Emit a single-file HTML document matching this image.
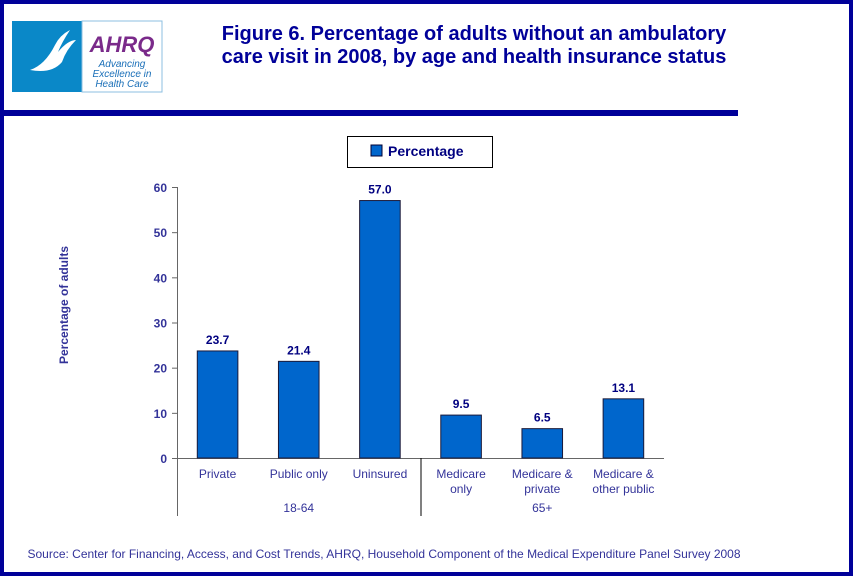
<!DOCTYPE html>
<html><head><meta charset="utf-8"><style>
body{margin:0;width:853px;height:576px;overflow:hidden;background:#fff;font-family:"Liberation Sans",sans-serif}
#frame{position:absolute;left:0;top:0;width:845px;height:568px;border:4px solid #000099;background:#fff}
</style></head><body>
<div id="frame"></div>
<svg width="853" height="576" style="position:absolute;left:0;top:0" font-family="Liberation Sans, sans-serif">
<g>
<rect x="12" y="21" width="70" height="71" fill="#0A88C8"/>
<path d="M30 70 q15 -5 25 -25 q5 -10 15 -15 q-8 12 -12 22 q10 -12 18 -12 q-10 10 -14 22 q-10 12 -32 8z" fill="#fff"/>
<rect x="82" y="21" width="80" height="71" fill="#fff" stroke="#8cbfe0"/>
<text x="122" y="52" text-anchor="middle" font-size="22" font-weight="bold" font-style="italic" fill="#7a2a8a">AHRQ</text>
<text x="122" y="67" text-anchor="middle" font-size="10" font-style="italic" fill="#1a6fb8">Advancing</text>
<text x="122" y="77" text-anchor="middle" font-size="10" font-style="italic" fill="#1a6fb8">Excellence in</text>
<text x="122" y="87" text-anchor="middle" font-size="10" font-style="italic" fill="#1a6fb8">Health Care</text>
</g>
<text x="474" y="40" text-anchor="middle" font-size="20" font-weight="bold" fill="#000099">Figure 6. Percentage of adults without an ambulatory</text>
<text x="474" y="63" text-anchor="middle" font-size="20" font-weight="bold" fill="#000099">care visit in 2008, by age and health insurance status</text>
<rect x="4" y="110" width="734" height="6" fill="#000099"/>
<g>
<rect x="347.5" y="136.5" width="145" height="31" fill="#fff" stroke="#000"/>
<rect x="371" y="145" width="11" height="11" fill="#0066CC" stroke="#003"/>
<text x="388" y="156" font-size="14" font-weight="bold" fill="#000080">Percentage</text>
</g>
<text transform="translate(68,305) rotate(-90)" text-anchor="middle" font-size="12" font-weight="bold" fill="#333399">Percentage of adults</text>
<g id="plot"></g>
<text x="384" y="558" text-anchor="middle" font-size="12" fill="#333399">Source: Center for Financing, Access, and Cost Trends, AHRQ, Household Component of the Medical Expenditure Panel Survey 2008</text>
</svg>
<script>
const categories=[["Private"],["Public only"],["Uninsured"],["Medicare","only"],["Medicare &","private"],["Medicare &","other public"]];
const values=[23.7,21.4,57.0,9.5,6.5,13.1];
const labels=["23.7","21.4","57.0","9.5","6.5","13.1"];
const yTicks=[0,10,20,30,40,50,60];
const groups=["18-64","65+"];
const groupSizes=[3,3];
const NS="http://www.w3.org/2000/svg";
const g=document.getElementById('plot');
const x0=177,x1=664,y0=458,yTop=187,yMax=60;
const step=(x1-x0)/categories.length;
const yS=v=>y0-(v/yMax)*(y0-yTop);
const xC=i=>x0+step*(i+0.5);
function mk(t,a,txt){const e=document.createElementNS(NS,t);for(const k in a)e.setAttribute(k,a[k]);if(txt!==undefined)e.textContent=txt;g.appendChild(e);return e;}
let e=mk('line',{x1:x0+.5,y1:yTop,x2:x0+.5,y2:516,stroke:'#666'});


e=mk('line',{x1:x0,y1:y0+.5,x2:x1,y2:y0+.5,stroke:'#666'});


yTicks.forEach(t=>{const y=yS(t);
mk('line',{x1:x0-5,y1:y+.5,x2:x0,y2:y+.5,stroke:'#666'});
e=mk('text',{x:x0-10,y:y+5,'text-anchor':'end','font-size':12,'font-weight':'bold',fill:'#333399'},t);

});
values.forEach((v,i)=>{const bw=step*0.5;
e=mk('rect',{x:xC(i)-bw/2,y:yS(v),width:bw,height:y0-yS(v),fill:'#0066CC',stroke:'#1a1a3a','stroke-width':1});


e=mk('text',{x:xC(i),y:yS(v)-7,'text-anchor':'middle','font-size':12,'font-weight':'bold',fill:'#000080'},labels[i]);


categories[i].forEach((ln,j)=>{e=mk('text',{x:xC(i),y:478+j*15,'text-anchor':'middle','font-size':12,fill:'#333399'},ln);

});});
let start=0;
groups.forEach((gn,k)=>{const end=start+groupSizes[k];
const xm=(xC(start)+xC(end-1))/2;
e=mk('text',{x:xm,y:512,'text-anchor':'middle','font-size':12,fill:'#333399'},gn);


if(end<categories.length){const xs=x0+step*end;
e=mk('line',{x1:xs+.5,y1:y0,x2:xs+.5,y2:516,stroke:'#000'});

}
start=end;});
</script>
</body></html>
